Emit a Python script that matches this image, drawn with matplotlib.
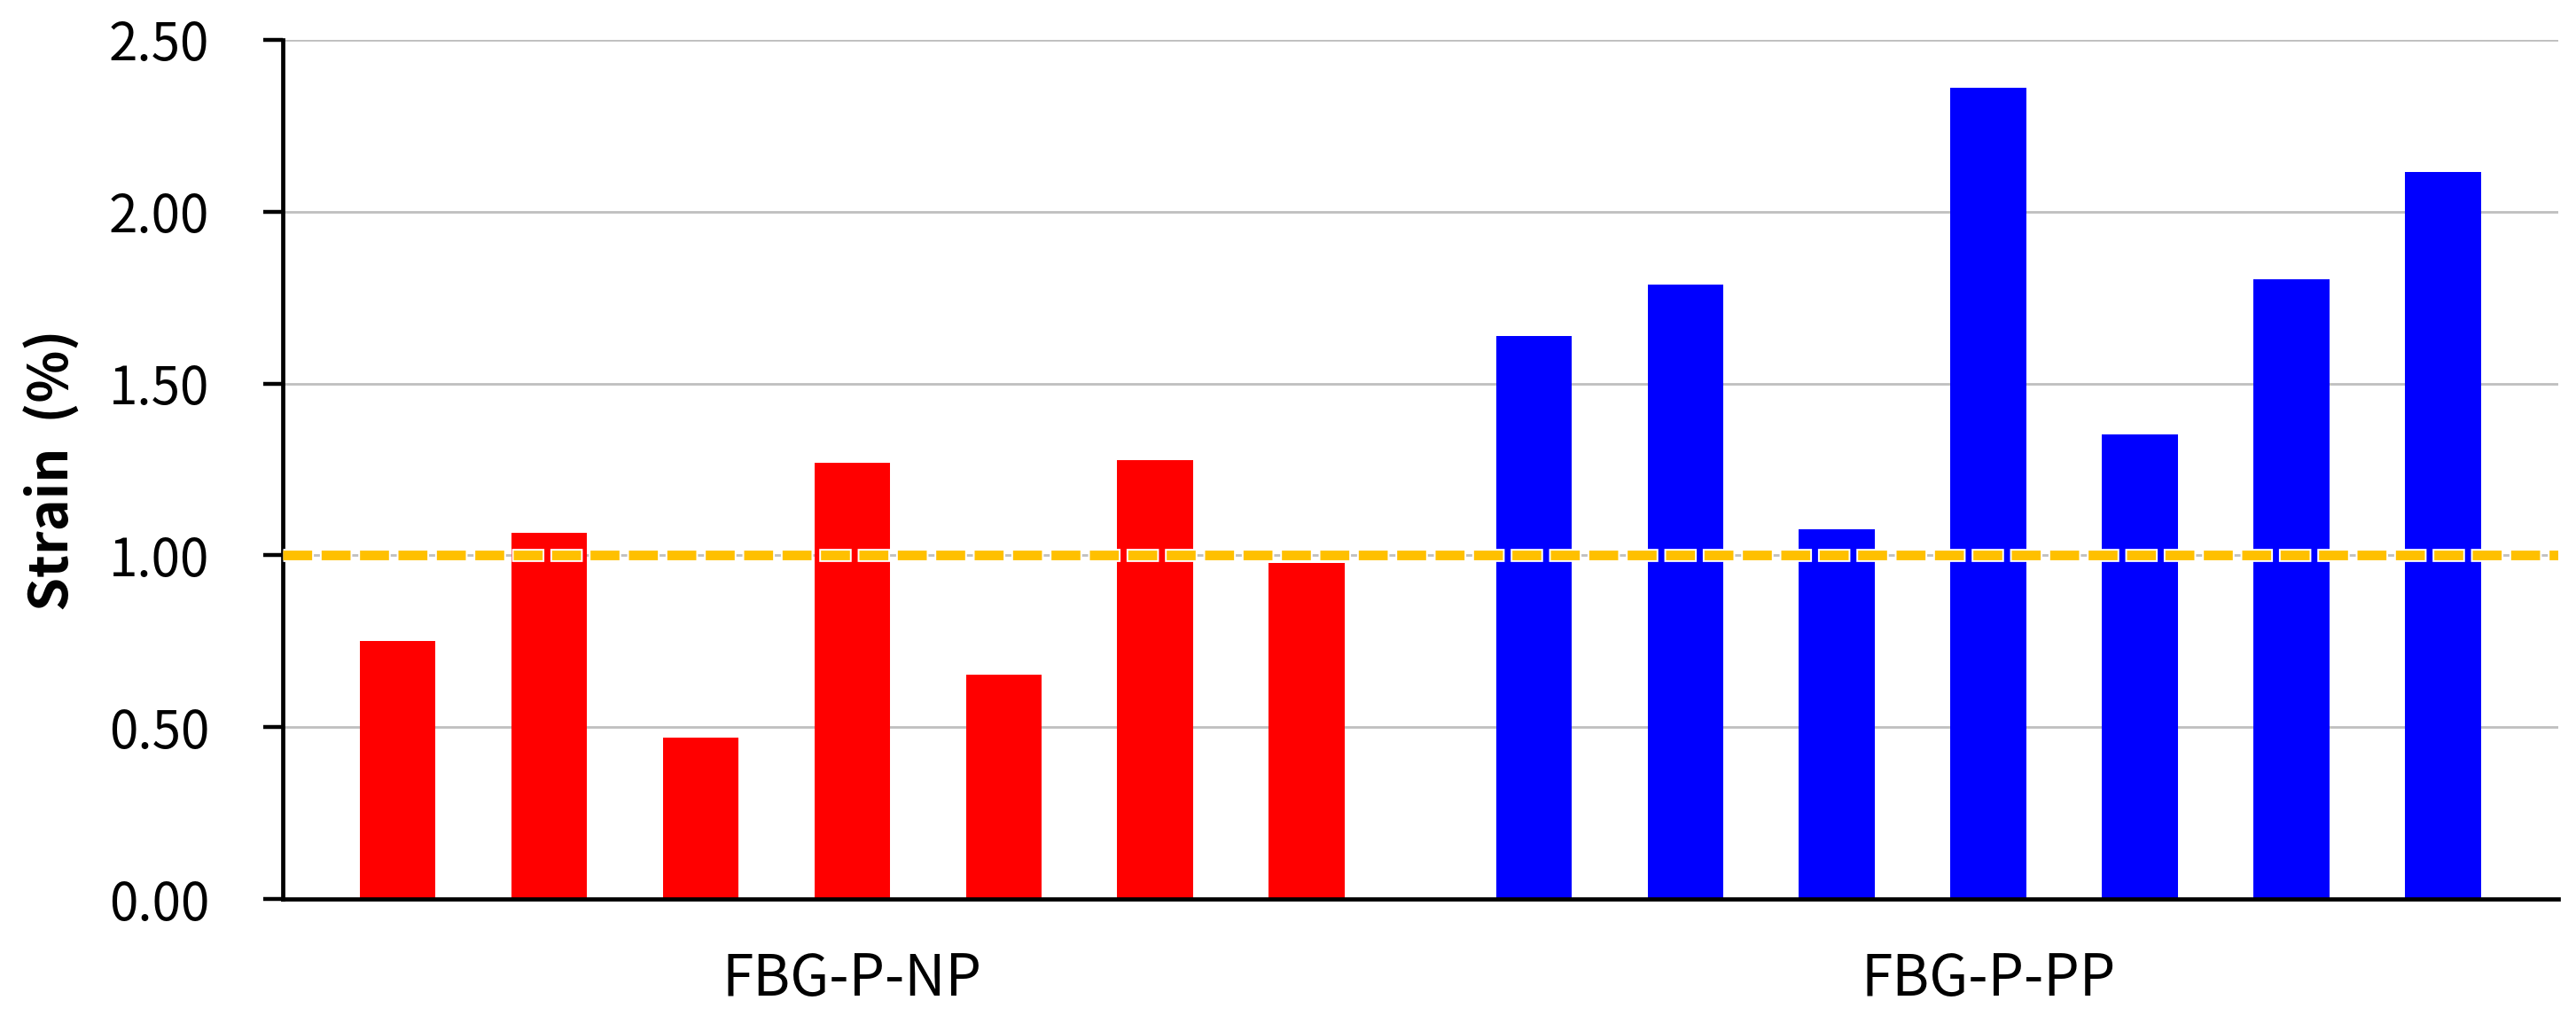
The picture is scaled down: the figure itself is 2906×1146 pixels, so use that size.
import numpy as np
import matplotlib.pyplot as plt

plt.rcParams['font.family'] = ['Noto Sans CJK KR', 'DejaVu Sans']
plt.rcParams['lines.scale_dashes'] = False

# --- Data ---
groups = ["FBG-P-NP", "FBG-P-PP"]
np_strain = [0.75, 1.065, 0.47, 1.27, 0.653, 1.277, 0.978]
pp_strain = [1.637, 1.787, 1.076, 2.361, 1.353, 1.803, 2.116]
threshold = 1.0
yticks = [0.0, 0.5, 1.0, 1.5, 2.0, 2.5]

x_np = np.arange(len(np_strain))
x_pp = np.arange(len(pp_strain)) + len(np_strain) + 0.5

fig = plt.figure(figsize=(29.06, 11.46), dpi=100)
ax = fig.add_axes([0.1097, 0.115, 0.8833, 0.846])

ax.bar(x_np, np_strain, width=0.5, color="#FF0000", zorder=2)
ax.bar(x_pp, pp_strain, width=0.5, color="#0000FF", zorder=2)

# 1% reference line: yellow dashes with a thin white outline
ax.axhline(threshold, color="white", linewidth=10.6,
           linestyle=(1.4, (26.3, 4.9)), zorder=3)
ax.axhline(threshold, color="#FFC000", linewidth=7.8,
           linestyle=(0, (23.5, 7.7)), zorder=4)

ax.set_xlim(-0.76, x_pp[-1] + 0.76)
ax.set_ylim(0, 2.5)
ax.set_yticks(yticks)
ax.set_yticklabels([f"{v:.2f}" for v in yticks])
ax.yaxis.grid(True, color="#BFBFBF", linewidth=2.0, zorder=0)
ax.set_axisbelow(True)

ax.set_xticks([x_np.mean(), x_pp.mean()])
ax.set_xticklabels(groups, fontsize=46)
ax.tick_params(axis="x", length=0, pad=41)
ax.tick_params(axis="y", labelsize=42, length=16, width=3.2, direction="out", pad=43.5)

for s in ["top", "right"]:
    ax.spines[s].set_visible(False)
for s in ["left", "bottom"]:
    ax.spines[s].set_linewidth(3.4)
    ax.spines[s].set_color("black")

fig.text(0.0205, 0.537, "Strain  (%)", rotation=90, ha="center", va="center",
         fontsize=44, fontweight="bold")

fig.savefig("out.png", dpi=100, facecolor="white")
